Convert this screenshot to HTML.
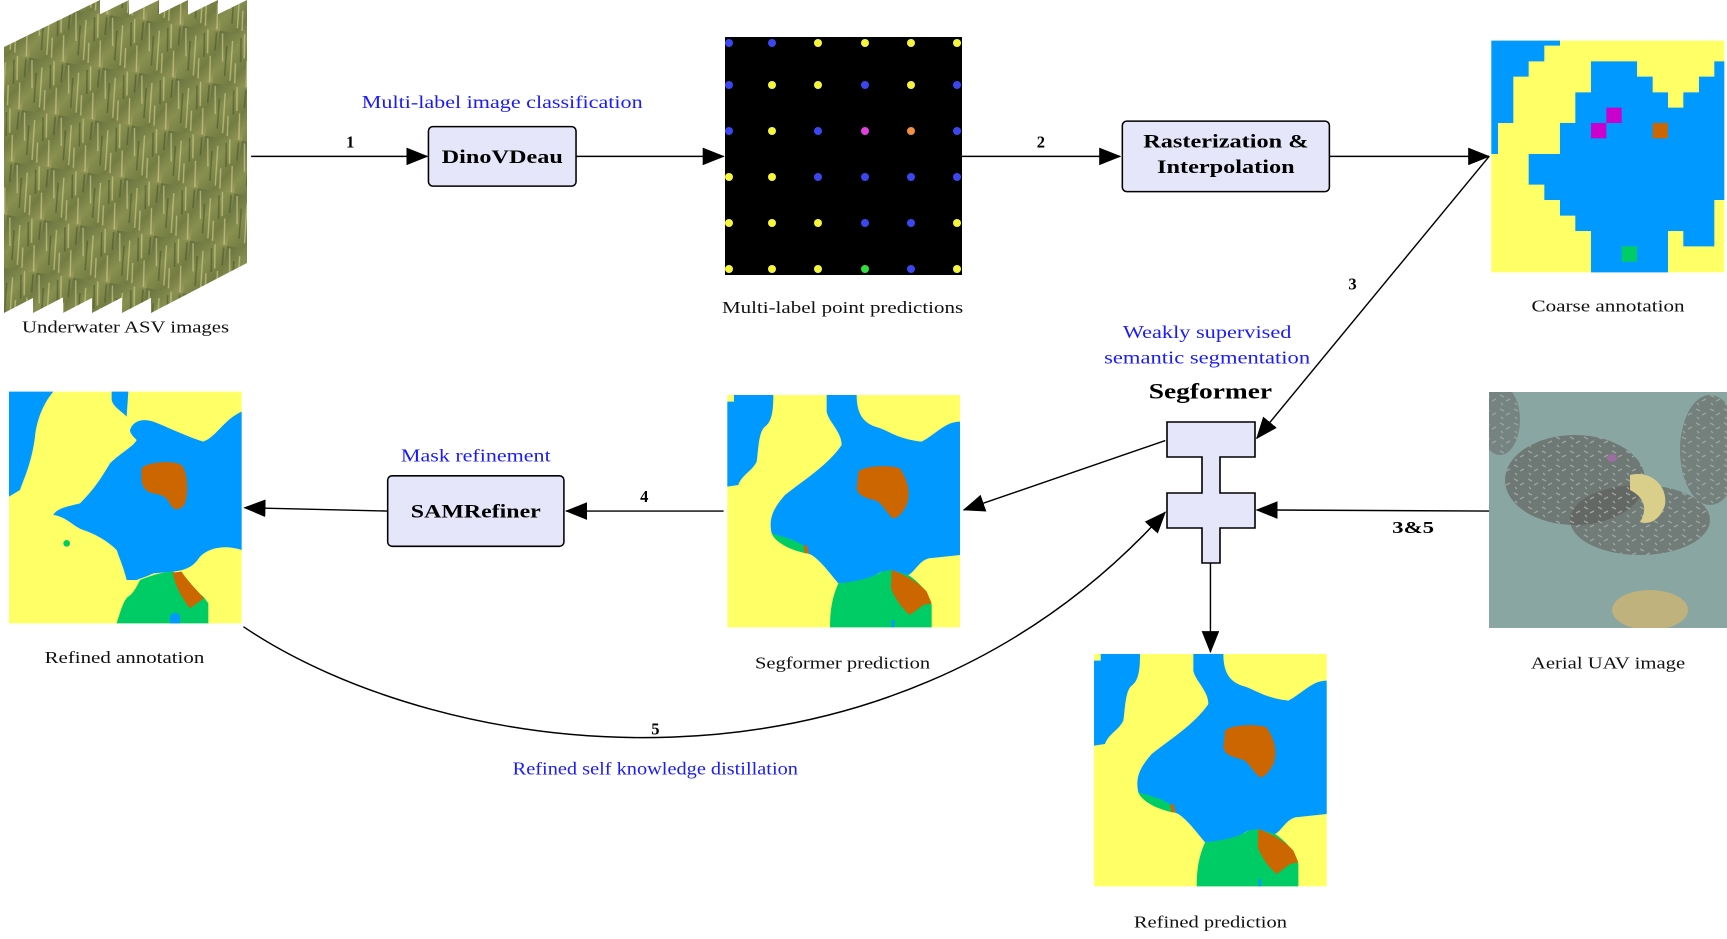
<!DOCTYPE html>
<html><head><meta charset="utf-8"><style>
html,body{margin:0;padding:0;background:#fff;}
svg{display:block;}
text{font-family:"Liberation Serif","DejaVu Serif",serif;}
</style></head><body>
<svg width="1727" height="939" viewBox="0 0 1727 939" xmlns="http://www.w3.org/2000/svg">
<defs>
<linearGradient id="asv" x1="0" y1="0" x2="1" y2="1">
<stop offset="0" stop-color="#646f3e"/><stop offset="0.4" stop-color="#87904f"/><stop offset="0.7" stop-color="#737c42"/><stop offset="1" stop-color="#9a9c5c"/></linearGradient>
<pattern id="streak" width="37" height="53" patternUnits="userSpaceOnUse" patternTransform="rotate(8)">
<rect width="37" height="53" fill="url(#asv)"/>
<path d="M3 2 L7 30 M14 8 L17 48 M25 0 L28 24 M31 26 L34 52 M20 30 L22 50" stroke="#d8d494" stroke-width="1.4" opacity="0.6"/>
<path d="M9 14 L11 44 M22 4 L25 28 M34 2 L35 20" stroke="#3f4a26" stroke-width="1.6" opacity="0.5"/>
</pattern>
<pattern id="reef" width="14" height="14" patternUnits="userSpaceOnUse">
<rect width="14" height="14" fill="#5c5a56"/>
<path d="M2 3 L6 5 M8 9 L12 7 M3 11 L5 13" stroke="#a8a498" stroke-width="1.3"/>
</pattern>
<clipPath id="uavclip"><rect x="1489" y="392" width="238" height="236"/></clipPath>
<marker id="ah2" markerWidth="20" markerHeight="16" refX="19" refY="8" orient="auto" markerUnits="userSpaceOnUse"><path d="M0,0 L20,8 L0,16 Z" fill="#000"/></marker>
<g id="segpred">
<rect x="37" y="30" width="698" height="697" fill="#ffff66"/>
<path d="M57,30 L175,30 C175,80 170,110 150,125 C130,140 130,200 125,230 C110,260 80,270 70,300 L37,305 L37,50 L57,50 Z" fill="#0099ff"/>
<path d="M335,30 L425,30 C425,80 440,110 480,125 C520,135 540,160 620,170 C660,150 690,110 735,110 L735,510 L640,520 C610,530 600,560 580,570 L500,560 C480,570 460,590 370,595 C340,560 320,530 290,510 L265,500 C230,470 190,460 170,445 C160,400 175,370 210,330 C260,290 340,240 380,180 C380,140 340,110 335,80 Z" fill="#0099ff"/>
<path d="M170,445 C200,455 240,462 265,482 L272,505 C230,495 195,480 175,455 Z" fill="#00cc66"/>
<path d="M265,482 L275,480 L282,505 L270,505 Z" fill="#cc6600"/>
<path d="M370,595 C420,590 470,580 500,560 L530,555 L580,570 C610,590 640,620 650,660 L650,727 L345,727 C345,680 350,640 370,595 Z" fill="#00cc66"/>
<path d="M530,555 C560,565 610,590 635,620 L650,655 L625,660 L585,690 C560,670 540,640 528,610 Z" fill="#cc6600"/>
<path d="M430,260 C450,240 530,240 555,250 C575,280 590,320 575,360 C560,390 545,400 535,400 C520,390 510,370 490,350 C470,340 430,340 425,310 Z" fill="#cc6600"/>
<rect x="530" y="705" width="8" height="22" fill="#0099ff"/>
</g>
</defs>

<g>
<polygon points="4,47 100,0 100,263 4,313" fill="url(#streak)"/>
<polygon points="33,47 129,0 129,263 33,313" fill="url(#streak)"/>
<polygon points="63,47 159,0 159,263 63,313" fill="url(#streak)"/>
<polygon points="92,47 188,0 188,263 92,313" fill="url(#streak)"/>
<polygon points="122,47 218,0 218,263 122,313" fill="url(#streak)"/>
<polygon points="151,47 247,0 247,263 151,313" fill="url(#streak)"/>
</g>

<rect x="725" y="37" width="237" height="238" fill="#000"/>
<g>
<circle cx="729" cy="43" r="4" fill="#3c46f0"/><circle cx="772" cy="43" r="4" fill="#3c46f0"/><circle cx="818" cy="43" r="4" fill="#f5f53c"/><circle cx="865" cy="43" r="4" fill="#f5f53c"/><circle cx="911" cy="43" r="4" fill="#f5f53c"/><circle cx="957" cy="43" r="4" fill="#f5f53c"/>
<circle cx="729" cy="85" r="4" fill="#3c46f0"/><circle cx="772" cy="85" r="4" fill="#f5f53c"/><circle cx="818" cy="85" r="4" fill="#f5f53c"/><circle cx="865" cy="85" r="4" fill="#3c46f0"/><circle cx="911" cy="85" r="4" fill="#f5f53c"/><circle cx="957" cy="85" r="4" fill="#3c46f0"/>
<circle cx="729" cy="131" r="4" fill="#3c46f0"/><circle cx="772" cy="131" r="4" fill="#f5f53c"/><circle cx="818" cy="131" r="4" fill="#3c46f0"/><circle cx="865" cy="131" r="4" fill="#e040e0"/><circle cx="911" cy="131" r="4" fill="#f09040"/><circle cx="957" cy="131" r="4" fill="#3c46f0"/>
<circle cx="729" cy="177" r="4" fill="#f5f53c"/><circle cx="772" cy="177" r="4" fill="#f5f53c"/><circle cx="818" cy="177" r="4" fill="#3c46f0"/><circle cx="865" cy="177" r="4" fill="#3c46f0"/><circle cx="911" cy="177" r="4" fill="#3c46f0"/><circle cx="957" cy="177" r="4" fill="#3c46f0"/>
<circle cx="729" cy="223" r="4" fill="#f5f53c"/><circle cx="772" cy="223" r="4" fill="#f5f53c"/><circle cx="818" cy="223" r="4" fill="#f5f53c"/><circle cx="865" cy="223" r="4" fill="#3c46f0"/><circle cx="911" cy="223" r="4" fill="#3c46f0"/><circle cx="957" cy="223" r="4" fill="#f5f53c"/>
<circle cx="729" cy="269" r="4" fill="#f5f53c"/><circle cx="772" cy="269" r="4" fill="#f5f53c"/><circle cx="818" cy="269" r="4" fill="#f5f53c"/><circle cx="865" cy="269" r="4" fill="#30e040"/><circle cx="911" cy="269" r="4" fill="#3c46f0"/><circle cx="957" cy="269" r="4" fill="#f5f53c"/>
</g>

<g transform="translate(1450,0) scale(0.33333)">
<rect x="124" y="122" width="699" height="695" fill="#ffff66"/>
<polygon points="124,122 330,122 330,137 283,137 283,184 236,184 236,230 190,230 190,369 144,369 144,462 124,462" fill="#0099ff"/>
<polygon points="423,184 561,184 561,230 608,230 608,277 654,277 654,323 700,323 700,277 747,277 747,230 793,230 793,184 823,184 823,600 793,600 793,739 700,739 700,693 654,693 654,817 423,817 423,693 376,693 376,647 330,647 330,600 283,600 283,554 236,554 236,462 330,462 330,369 376,369 376,277 423,277" fill="#0099ff"/>
<rect x="469" y="323" width="46" height="46" fill="#cc00cc"/>
<rect x="423" y="369" width="46" height="46" fill="#cc00cc"/>
<rect x="608" y="369" width="46" height="46" fill="#cc6600"/>
<rect x="515" y="739" width="46" height="46" fill="#00cc66"/>
</g>

<g transform="translate(715,385) scale(0.33333)"><use href="#segpred"/></g>
<g transform="translate(1081.7,644) scale(0.33333)"><use href="#segpred"/></g>

<g transform="translate(0,380) scale(0.33333)">
<rect x="27" y="35" width="698" height="695" fill="#ffff66"/>
<path d="M27,35 L160,35 C130,70 110,120 105,170 C95,250 70,300 60,330 L27,350 Z" fill="#0099ff"/>
<path d="M335,35 L385,35 L380,110 C360,90 340,80 335,60 Z" fill="#0099ff"/>
<path d="M390,150 C400,120 430,115 460,125 C500,140 560,170 610,185 C650,170 670,120 725,95 L725,510 C680,495 630,500 600,530 C580,560 560,570 520,575 L460,580 C440,590 420,595 410,600 L380,600 C370,560 360,540 350,510 C320,480 280,460 250,450 C220,440 200,410 160,405 C170,385 200,380 240,370 C280,330 300,300 330,250 C360,220 400,200 410,180 C400,170 390,160 390,150 Z" fill="#0099ff"/>
<path d="M420,600 C460,585 490,575 520,575 L560,610 L610,650 L625,670 L625,730 L350,730 C360,700 370,660 385,650 C400,640 410,620 420,600 Z" fill="#00cc66"/>
<path d="M518,578 L545,575 C560,600 590,630 612,655 L570,685 C550,660 525,620 518,578 Z" fill="#cc6600"/>
<path d="M510,730 L510,710 C515,695 535,695 540,710 L540,730 Z" fill="#0099ff"/>
<circle cx="200" cy="490" r="10" fill="#00cc66"/>
<path d="M425,265 C440,245 520,240 545,255 C565,280 565,340 555,370 C545,390 525,392 515,380 C500,350 490,345 460,340 C430,335 420,310 425,265 Z" fill="#cc6600"/>
</g>

<g clip-path="url(#uavclip)">
<rect x="1489" y="392" width="238" height="236" fill="#8aa6a2"/>
<ellipse cx="1575" cy="480" rx="70" ry="45" fill="url(#reef)" opacity="0.6"/>
<ellipse cx="1640" cy="520" rx="70" ry="35" fill="url(#reef)" opacity="0.55"/>
<ellipse cx="1710" cy="450" rx="30" ry="55" fill="url(#reef)" opacity="0.5"/>
<ellipse cx="1500" cy="420" rx="20" ry="35" fill="url(#reef)" opacity="0.45"/>
<path d="M1630,475 C1650,470 1668,485 1665,505 C1660,520 1650,525 1640,522 C1650,505 1640,495 1630,490 Z" fill="#d9cf8a"/>
<ellipse cx="1650" cy="610" rx="38" ry="20" fill="#bfb27c"/>
<ellipse cx="1612" cy="458" rx="5" ry="4" fill="#9a6fa0"/>
</g>

<polygon points="1167,422 1255,422 1255,457 1220,457 1220,493 1255,493 1255,528 1220,528 1220,563 1202,563 1202,528 1167,528 1167,493 1202,493 1202,457 1167,457" fill="#e6e6fa" stroke="#000" stroke-width="1.6"/>

<g transform="scale(1.10140)">
<g fill="none" stroke="#000" stroke-width="1.3">
<line x1="228" y1="142" x2="388" y2="142" marker-end="url(#ah2)"/>
<line x1="523" y1="142" x2="657" y2="142" marker-end="url(#ah2)"/>
<line x1="873" y1="142" x2="1017" y2="142" marker-end="url(#ah2)"/>
<line x1="1207" y1="142" x2="1352" y2="142" marker-end="url(#ah2)"/>
<line x1="1352" y1="142" x2="1141" y2="398" marker-end="url(#ah2)"/>
<line x1="1058" y1="400" x2="875" y2="463" marker-end="url(#ah2)"/>
<line x1="1352" y1="464" x2="1141" y2="463" marker-end="url(#ah2)"/>
<line x1="1099" y1="511" x2="1099" y2="592" marker-end="url(#ah2)"/>
<line x1="657" y1="464" x2="514" y2="464" marker-end="url(#ah2)"/>
<line x1="352" y1="464" x2="222" y2="461" marker-end="url(#ah2)"/>
<path d="M221,569 C400,690 800,750 1058,465" marker-end="url(#ah2)"/>
</g>
<rect x="389" y="115" width="134" height="54" rx="4" fill="#e6e6fa" stroke="#000" stroke-width="1.4"/>
<rect x="1019" y="110" width="188" height="64" rx="4" fill="#e6e6fa" stroke="#000" stroke-width="1.4"/>
<rect x="352" y="432" width="160" height="64" rx="4" fill="#e6e6fa" stroke="#000" stroke-width="1.4"/>

<g font-size="17" font-weight="bold" text-anchor="middle" fill="#000" lengthAdjust="spacingAndGlyphs">
<text x="456" y="148" textLength="110" lengthAdjust="spacingAndGlyphs">DinoVDeau</text>
<text x="1113" y="134" textLength="150" lengthAdjust="spacingAndGlyphs">Rasterization &amp;</text>
<text x="1113" y="157" textLength="125" lengthAdjust="spacingAndGlyphs">Interpolation</text>
<text x="432" y="470" textLength="118" lengthAdjust="spacingAndGlyphs">SAMRefiner</text>
<text x="318" y="134" font-size="15">1</text>
<text x="945" y="134" font-size="15">2</text>
<text x="1228" y="263" font-size="15">3</text>
<text x="585" y="456" font-size="15">4</text>
<text x="595" y="667" font-size="15">5</text>
<text x="1283" y="484" font-size="15" textLength="38" lengthAdjust="spacingAndGlyphs">3&amp;5</text>
<text x="1099" y="362" font-size="20" textLength="112" lengthAdjust="spacingAndGlyphs">Segformer</text>
</g>
<g font-size="16" text-anchor="middle" fill="#1a1aff">
<text x="456" y="98" textLength="255" lengthAdjust="spacingAndGlyphs">Multi-label image classification</text>
<text x="1096" y="307" textLength="153" lengthAdjust="spacingAndGlyphs">Weakly supervised</text>
<text x="1096" y="330" textLength="187" lengthAdjust="spacingAndGlyphs">semantic segmentation</text>
<text x="432" y="419" textLength="136" lengthAdjust="spacingAndGlyphs">Mask refinement</text>
<text x="595" y="703" textLength="259" lengthAdjust="spacingAndGlyphs">Refined self knowledge distillation</text>
</g>
<g font-size="15.5" text-anchor="middle" fill="#111">
<text x="114" y="302" textLength="188" lengthAdjust="spacingAndGlyphs">Underwater ASV images</text>
<text x="765" y="284" textLength="219" lengthAdjust="spacingAndGlyphs">Multi-label point predictions</text>
<text x="1460" y="283" textLength="139" lengthAdjust="spacingAndGlyphs">Coarse annotation</text>
<text x="113" y="602" textLength="145" lengthAdjust="spacingAndGlyphs">Refined annotation</text>
<text x="765" y="607" textLength="159" lengthAdjust="spacingAndGlyphs">Segformer prediction</text>
<text x="1460" y="607" textLength="140" lengthAdjust="spacingAndGlyphs">Aerial UAV image</text>
<text x="1099" y="842" textLength="139" lengthAdjust="spacingAndGlyphs">Refined prediction</text>
</g>
</g>
</svg>
</body></html>
